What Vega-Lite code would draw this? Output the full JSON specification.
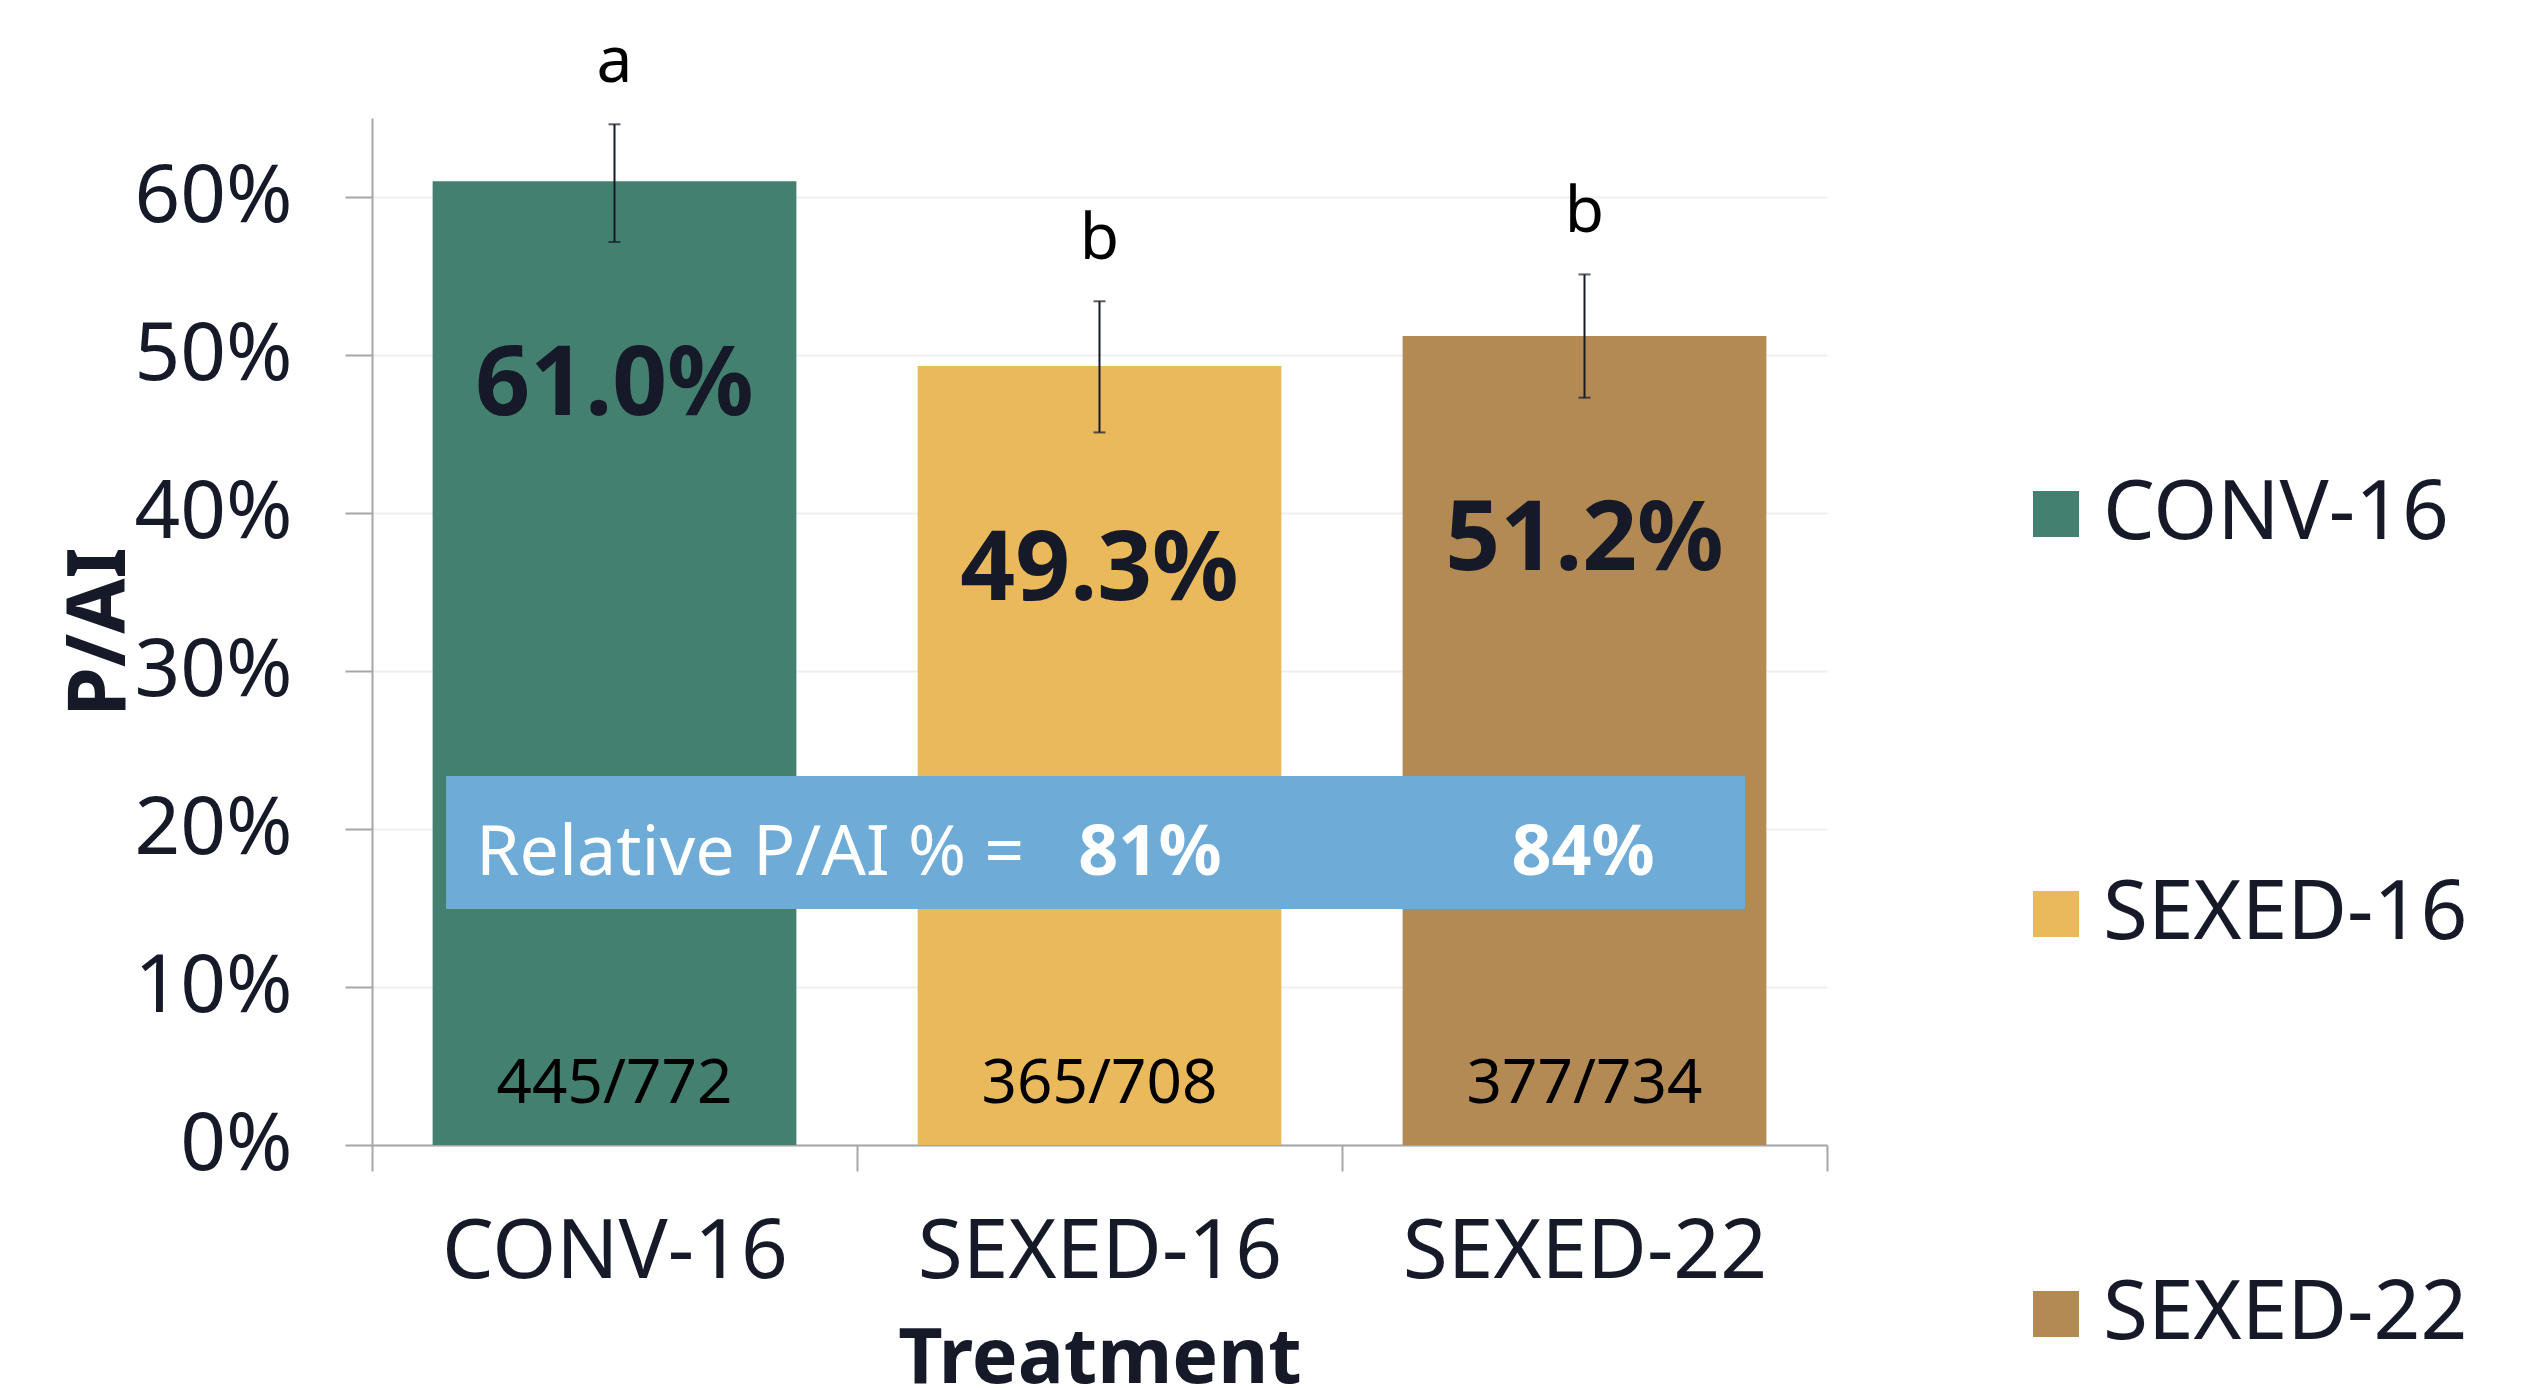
{
  "$schema": "https://vega.github.io/schema/vega-lite/v6.json",
  "width": 1455,
  "height": 1027,
  "autosize": {"type": "none"},
  "padding": {"left": 372, "top": 118, "right": 708, "bottom": 243},
  "background": "white",
  "config": {
    "font": "Noto Sans",
    "view": {"stroke": null},
    "axis": {"labelColor": "#161a28", "titleColor": "#161a28", "labelFont": "Noto Sans", "titleFont": "Noto Sans"}
  },
  "title": {
    "text": "ation of a fertile ovulation event in these herds.",
    "anchor": "start",
    "frame": "group",
    "orient": "top",
    "baseline": "alphabetic",
    "offset": 116,
    "dx": -356,
    "fontSize": 95,
    "fontWeight": "normal",
    "color": "#161a28"
  },
  "datasets": {
    "bars": [
      {"Treatment": "CONV-16", "PAI": 0.610, "lo": 0.5715, "hi": 0.646, "label": "61.0%", "letter": "a", "count": "445/772"},
      {"Treatment": "SEXED-16", "PAI": 0.493, "lo": 0.451, "hi": 0.534, "label": "49.3%", "letter": "b", "count": "365/708"},
      {"Treatment": "SEXED-22", "PAI": 0.512, "lo": 0.473, "hi": 0.551, "label": "51.2%", "letter": "b", "count": "377/734"}
    ],
    "banner": [
      {"x0": 0.1526, "x1": 2.831, "y0": 0.1494, "y1": 0.2335}
    ],
    "bannerText": [
      {"pos": 1.604, "val": 0.171, "text": "81%"},
      {"pos": 2.497, "val": 0.171, "text": "84%"}
    ],
    "bannerLead": [
      {"pos": 0.2144, "val": 0.171, "text": "Relative P/AI % ="}
    ]
  },
  "layer": [
    {
      "data": {"name": "bars"},
      "layer": [
        {
          "mark": {"type": "bar", "width": {"band": 0.75}},
          "encoding": {
            "x": {
              "field": "Treatment", "type": "nominal", "sort": null,
              "scale": {"paddingInner": 0, "paddingOuter": 0},
              "axis": {
                "title": "Treatment", "labelAngle": 0, "labelFontSize": 82, "labelLimit": 800,
                "labelBaseline": "alphabetic", "labelPadding": 106,
                "tickBand": "extent", "ticks": true, "tickSize": 26, "tickColor": "#a6a6a6", "tickWidth": 2,
                "domainColor": "#a6a6a6", "domainWidth": 2,
                "titleFontSize": 77, "titleFontWeight": "bold", "titleBaseline": "alphabetic", "titleY": 237
              }
            },
            "y": {
              "field": "PAI", "type": "quantitative",
              "scale": {"domain": [0, 0.65], "nice": false, "zero": true},
              "axis": {
                "title": "P/AI", "format": ".0%", "values": [0, 0.1, 0.2, 0.3, 0.4, 0.5, 0.6],
                "labelFontSize": 80, "labelPadding": 53,
                "tickSize": 27, "tickColor": "#a6a6a6", "tickWidth": 2,
                "domainColor": "#a6a6a6", "domainWidth": 2,
                "grid": true, "gridColor": "#efefef", "gridWidth": 2,
                "titleFontSize": 80, "titleFontWeight": "bold", "titleBaseline": "alphabetic", "titleX": -248
              }
            },
            "color": {
              "field": "Treatment", "type": "nominal", "sort": null,
              "scale": {"domain": ["CONV-16", "SEXED-16", "SEXED-22"], "range": ["#448070", "#eab95c", "#b38a53"]},
              "legend": {
                "title": null, "orient": "none", "legendX": 1643, "legendY": 355,
                "symbolType": "square", "symbolSize": 2116, "symbolStrokeWidth": 0,
                "labelFontSize": 82, "labelColor": "#161a28", "labelFont": "Noto Sans",
                "labelOffset": 6, "rowPadding": 318, "labelLimit": 600
              }
            }
          }
        },
        {
          "mark": {"type": "rule", "color": "#161a28", "strokeWidth": 2},
          "encoding": {
            "x": {"field": "Treatment", "type": "nominal", "sort": null},
            "y": {"field": "lo", "type": "quantitative"},
            "y2": {"field": "hi"}
          }
        },
        {
          "mark": {"type": "tick", "color": "#161a28", "thickness": 2, "size": 12, "orient": "horizontal"},
          "encoding": {
            "x": {"field": "Treatment", "type": "nominal", "sort": null},
            "y": {"field": "lo", "type": "quantitative"}
          }
        },
        {
          "mark": {"type": "tick", "color": "#161a28", "thickness": 2, "size": 12, "orient": "horizontal"},
          "encoding": {
            "x": {"field": "Treatment", "type": "nominal", "sort": null},
            "y": {"field": "hi", "type": "quantitative"}
          }
        },
        {
          "mark": {"type": "text", "fontSize": 64, "color": "#000000", "baseline": "alphabetic", "dy": -42},
          "encoding": {
            "x": {"field": "Treatment", "type": "nominal", "sort": null},
            "y": {"field": "hi", "type": "quantitative"},
            "text": {"field": "letter"}
          }
        },
        {
          "mark": {"type": "text", "fontSize": 96, "fontWeight": "bold", "color": "#161a28", "baseline": "alphabetic", "dy": 234},
          "encoding": {
            "x": {"field": "Treatment", "type": "nominal", "sort": null},
            "y": {"field": "PAI", "type": "quantitative"},
            "text": {"field": "label"}
          }
        },
        {
          "mark": {"type": "text", "fontSize": 62, "color": "#000000", "baseline": "alphabetic", "dy": -42},
          "encoding": {
            "x": {"field": "Treatment", "type": "nominal", "sort": null},
            "y": {"datum": 0, "type": "quantitative"},
            "text": {"field": "count"}
          }
        }
      ]
    },
    {
      "data": {"name": "banner"},
      "mark": {"type": "rect", "color": "#6eabd7"},
      "encoding": {
        "x": {"field": "x0", "type": "quantitative", "scale": {"domain": [0, 3], "nice": false, "zero": false}, "axis": null},
        "x2": {"field": "x1"},
        "y": {"field": "y0", "type": "quantitative"},
        "y2": {"field": "y1"}
      }
    },
    {
      "data": {"name": "bannerLead"},
      "mark": {"type": "text", "fontSize": 70, "color": "white", "align": "left", "baseline": "alphabetic"},
      "encoding": {
        "x": {"field": "pos", "type": "quantitative", "scale": {"domain": [0, 3], "nice": false, "zero": false}, "axis": null},
        "y": {"field": "val", "type": "quantitative"},
        "text": {"field": "text"}
      }
    },
    {
      "data": {"name": "bannerText"},
      "mark": {"type": "text", "fontSize": 70, "fontWeight": "bold", "color": "white", "align": "center", "baseline": "alphabetic"},
      "encoding": {
        "x": {"field": "pos", "type": "quantitative", "scale": {"domain": [0, 3], "nice": false, "zero": false}, "axis": null},
        "y": {"field": "val", "type": "quantitative"},
        "text": {"field": "text"}
      }
    }
  ],
  "resolve": {"scale": {"x": "independent"}}
}
